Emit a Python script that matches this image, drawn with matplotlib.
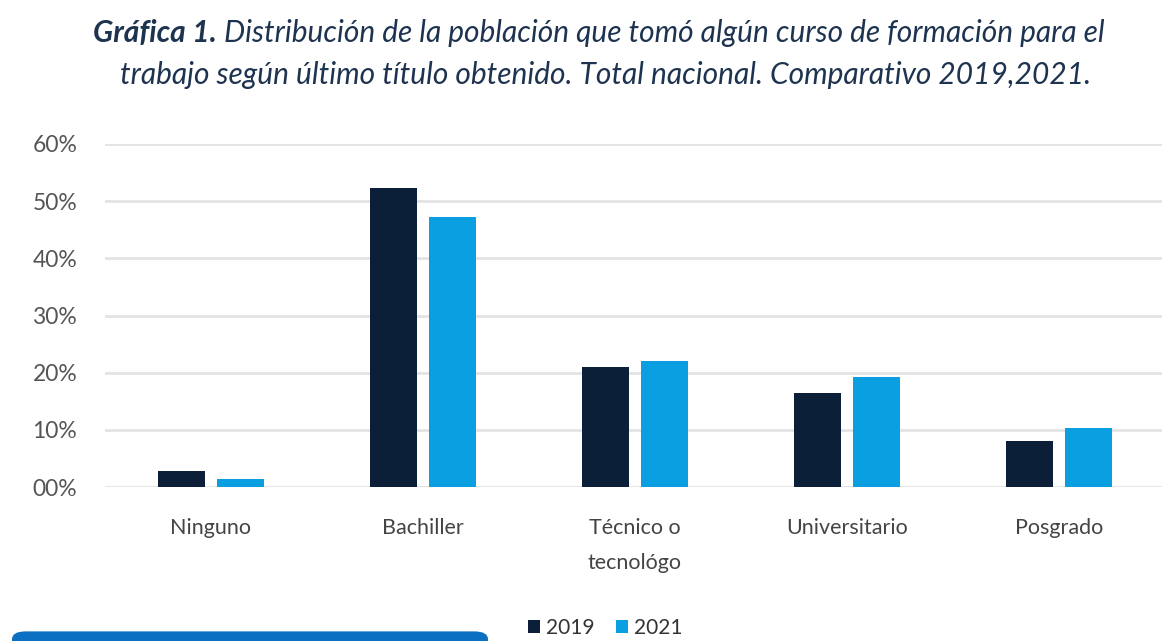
import numpy as np
import matplotlib.pyplot as plt
from matplotlib.patches import FancyBboxPatch

categorias = ["Ninguno", "Bachiller", "Técnico o\ntecnológo", "Universitario", "Posgrado"]
valores_2019 = [2.8, 52.3, 21.0, 16.4, 8.0]
valores_2021 = [1.4, 47.2, 22.0, 19.2, 10.3]
series = ["2019", "2021"]
y_ticks = [0, 10, 20, 30, 40, 50, 60]
y_labels = ["00%", "10%", "20%", "30%", "40%", "50%", "60%"]

color_2019 = "#0b2038"
color_2021 = "#0a9fe0"
color_texto = "#1d3350"

plt.rcParams["font.family"] = ["Lato", "DejaVu Sans"]

fig = plt.figure(figsize=(11.62, 6.41), dpi=100)
ax = fig.add_axes([105 / 1162, 1 - 487 / 641, 1060 / 1162, 343 / 641])

x = np.arange(len(categorias))
ancho = 0.222
ax.bar(x - 0.139, valores_2019, ancho, color=color_2019, label=series[0], zorder=3)
ax.bar(x + 0.139, valores_2021, ancho, color=color_2021, label=series[1], zorder=3)

ax.set_xlim(-0.5, len(categorias) - 0.5)
ax.set_ylim(0, 60)
ax.set_yticks(y_ticks)
ax.set_yticklabels(y_labels, fontsize=16.5, color="#555555")
ax.set_xticks(x)
ax.set_xticklabels(categorias, fontsize=15.5, color="#444444", linespacing=1.95)
ax.tick_params(axis="both", length=0)
ax.tick_params(axis="y", pad=20)
ax.tick_params(axis="x", pad=22)
ax.yaxis.grid(True, color="#e3e3e3", linewidth=2, zorder=0)
for s in ax.spines.values():
    s.set_visible(False)

leg = ax.legend(loc="center", bbox_to_anchor=(0.472, -0.41), ncol=2, frameon=False,
                fontsize=15, handlelength=0.6, handleheight=0.6, handletextpad=0.3,
                columnspacing=1.0)
for t in leg.get_texts():
    t.set_color("#333333")

# titulo
t1 = fig.text(93 / 1162, 1 - 42 / 641, "Gráfica 1.", fontsize=21.5, fontweight="bold",
              style="italic", color=color_texto, ha="left", va="baseline")
ax.annotate(" Distribución de la población que tomó algún curso de formación para el",
            xy=(1, 0), xycoords=t1, ha="left", va="bottom", fontsize=21.5,
            style="italic", color=color_texto, annotation_clip=False)
fig.text(606 / 1162, 1 - 84 / 641,
         "trabajo según último título obtenido. Total nacional. Comparativo 2019,2021.",
         fontsize=21.5, style="italic", color=color_texto, ha="center", va="baseline")

# recuadro azul cortado en la parte inferior
caja = FancyBboxPatch((12 / 1162, -0.02), 476 / 1162, 0.035,
                      boxstyle="round,pad=0,rounding_size=0.012",
                      transform=fig.transFigure, facecolor="#0b70c2",
                      edgecolor="none", clip_on=False)
fig.patches.append(caja)

fig.savefig("out.png", dpi=100)
